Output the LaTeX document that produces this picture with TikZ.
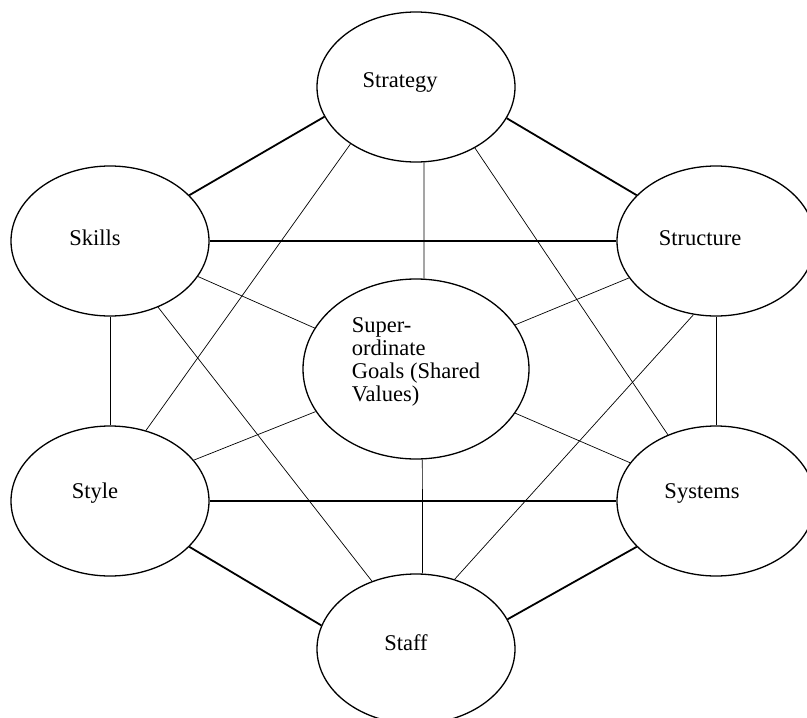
\documentclass[tikz,border=0pt]{standalone}
\usepackage{fontspec}
\setmainfont{Liberation Serif}
\usepackage{tikz}
\usetikzlibrary{shapes,positioning}

\begin{document}
\begin{tikzpicture}[x=1pt,y=-1pt,
    oval/.style={ellipse,draw,line width=1.3pt,minimum width=198pt,minimum height=150pt,inner sep=0pt},
    bond/.style={line width=1.8pt},
    link/.style={line width=0.7pt},
    every label/.style={font=\fontsize{22.5}{23}\selectfont}]
    \useasboundingbox (0,0) rectangle (807,718);

    \node[oval,label={[xshift=-16pt,yshift=5pt]center:Strategy}] (strategy) at (416,87) {};
    \node[oval,label={[xshift=-15pt,yshift=3pt]center:Skills}] (skills) at (110,241) {};
    \node[oval,label={[xshift=-16pt,yshift=3pt]center:Structure}] (structure) at (716,241) {};
    \node[oval,minimum width=226pt,minimum height=180pt,
          label={[yshift=7pt,align=left]center:{Super-\\ordinate\\Goals (Shared\\Values)}}] (goals) at (416,369) {};
    \node[oval,label={[xshift=-15pt,yshift=8pt]center:Style}] (style) at (110,501) {};
    \node[oval,label={[xshift=-14pt,yshift=8pt]center:Systems}] (systems) at (716,501) {};
    \node[oval,label={[xshift=-10pt,yshift=6pt]center:Staff}] (staff) at (416,649) {};

    % outer ring
    \draw[bond] (strategy.198) -- (skills.30);
    \draw[bond] (strategy.341) -- (structure.150);
    \draw[bond] (skills.east) -- (structure.west);
    \draw[bond] (style.east) -- (systems.west);
    \draw[bond] (style.330) -- (staff.166);
    \draw[bond] (systems.210) -- (staff.18);

    % cross links
    \draw[link] (strategy.276) -- (goals.85);
    \draw[link] (strategy.221) -- (style.63);
    \draw[link] (strategy.314) -- (systems.126);
    \draw[link] (skills.338) -- (goals.158);
    \draw[link] (skills.south) -- (style.north);
    \draw[link] (skills.306) -- (staff.123);
    \draw[link] (structure.203) -- (goals.24);
    \draw[link] (structure.south) -- (systems.north);
    \draw[link] (structure.253) -- (staff.61);
    \draw[link] (style.26) -- (goals.203);
    \draw[link] (systems.156) -- (goals.336);
    \draw[link] (goals.274) -- (staff.85);
\end{tikzpicture}
\end{document}
